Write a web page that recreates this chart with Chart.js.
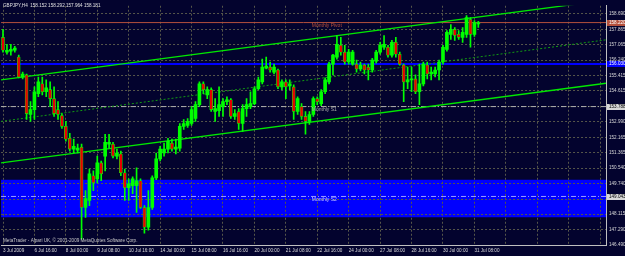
<!DOCTYPE html>
<html><head><meta charset="utf-8">
<script src="https://cdn.jsdelivr.net/npm/chart.js@4.4.0/dist/chart.umd.min.js"></script>
<style>
html,body{margin:0;padding:0;background:#03032e;overflow:hidden}
#wrap{width:625px;height:256px;position:relative}
canvas{background:#03032e;display:block}
</style></head>
<body><div id="wrap"><canvas id="c" width="625" height="256"></canvas></div>
<script>
// GBPJPY H4 candles (price values)
const openPrices = [
157.44,156.66,156.71,156.76,156.40,155.35,155.46,153.37,153.63,154.47,
154.99,154.57,154.68,154.21,153.63,153.32,152.75,152.12,151.55,151.49,
151.65,148.47,148.84,150.14,149.98,150.82,151.18,151.81,151.81,151.18,
151.29,150.30,149.51,149.62,149.62,149.88,148.47,147.43,148.47,150.03,
151.03,151.34,151.55,151.86,151.55,151.60,152.75,152.80,152.90,153.16,
153.89,154.99,154.41,154.68,153.53,153.58,153.79,154.05,154.15,153.27,
153.53,152.90,153.68,153.79,153.95,154.73,155.09,155.82,155.87,155.61,
155.72,154.83,155.09,154.88,154.83,153.53,153.79,153.27,153.01,153.37,
154.21,153.95,154.57,155.09,156.03,156.40,157.02,156.66,156.14,156.03,
156.03,155.77,155.98,155.87,155.72,156.19,156.66,156.92,156.92,156.50,
157.18,156.55,155.98,155.09,155.20,155.25,154.57,154.99,155.98,155.51,
155.51,155.72,156.14,156.81,157.60,157.86,157.60,157.44,157.60,158.38,
157.60,158.152];
const highPrices = [
157.86,157.07,157.07,156.97,156.50,155.61,155.51,154.05,154.83,155.35,
155.35,155.20,155.09,154.83,154.05,153.42,153.01,152.38,152.07,151.81,
151.81,149.36,150.50,150.40,151.18,150.92,152.33,152.33,151.91,151.55,
151.44,150.50,149.98,150.09,150.56,149.98,148.57,149.36,150.14,151.34,
151.70,151.86,152.12,152.07,152.07,152.90,153.11,153.16,153.79,154.05,
155.09,155.09,154.83,154.78,154.21,154.83,154.21,154.31,154.21,153.63,
153.68,153.89,154.21,154.57,154.83,155.35,156.29,156.40,156.14,156.03,
155.77,155.20,155.20,155.20,154.94,154.31,153.95,153.53,153.53,154.31,
154.31,154.68,155.30,156.14,156.55,157.54,157.44,157.02,156.81,156.76,
156.24,156.14,156.03,156.03,156.34,156.76,157.18,157.54,157.02,157.28,
157.44,156.66,156.03,155.87,155.87,155.46,156.03,156.14,156.14,155.87,
155.87,156.24,157.02,157.80,158.12,157.96,157.80,157.96,158.59,158.48,
158.32,158.292];
const lowPrices = [
156.66,156.55,156.50,156.66,155.30,155.25,153.11,153.01,153.11,154.31,
154.41,154.31,153.79,153.27,153.11,152.64,151.96,151.44,151.34,151.34,
146.80,147.95,148.57,149.36,149.77,149.88,150.40,151.60,151.08,151.03,
150.14,148.84,148.84,149.20,148.21,148.42,147.11,147.27,148.37,149.93,
150.92,151.18,151.34,151.44,151.29,151.44,152.59,152.69,152.80,153.01,
153.79,154.47,154.21,153.53,153.01,153.27,153.27,153.89,153.16,153.11,
152.59,152.48,153.27,153.68,153.89,154.68,154.99,155.77,155.61,155.51,
154.73,154.68,154.21,154.68,153.11,153.37,153.11,152.33,152.85,153.27,
153.89,153.84,154.47,154.99,155.46,156.29,156.50,156.03,156.03,155.98,
155.61,155.67,155.51,155.20,155.61,156.08,156.55,156.81,156.40,156.40,
156.40,155.98,154.05,154.73,154.57,154.47,153.89,154.88,155.25,155.20,
155.35,155.20,156.03,156.71,157.33,157.28,157.33,157.18,157.44,156.92,
157.49,157.964];
const closePrices = [
156.76,156.76,156.81,156.87,155.35,155.51,153.42,153.63,154.57,155.09,
154.57,154.78,154.21,153.42,153.37,152.75,152.07,151.55,151.70,151.60,
148.47,148.94,150.24,149.77,150.82,150.24,151.91,151.91,151.18,151.34,
150.30,149.51,149.72,149.98,149.88,148.47,147.43,148.47,150.03,151.03,
151.55,151.55,151.96,151.55,151.65,152.75,152.90,153.01,153.63,153.89,
154.99,154.68,154.68,153.63,153.68,153.89,154.05,154.15,153.27,153.42,
152.90,153.68,153.89,153.95,154.73,155.20,155.87,155.93,155.72,155.87,
154.83,155.09,154.83,154.99,153.53,154.21,153.27,153.01,153.37,154.21,
154.05,154.57,155.20,156.03,156.50,157.07,156.66,156.14,156.66,156.66,
155.77,155.98,155.72,155.72,156.24,156.66,157.02,157.07,156.50,157.18,
156.55,156.03,155.09,155.20,155.25,154.57,154.99,156.03,155.51,155.61,
155.72,156.14,156.92,157.70,157.86,157.54,157.44,157.70,158.48,157.60,
158.22,158.181];

// time axis labels, one every 8 bars
const timeLabels = ["3 Jul 2009","6 Jul 16:00","8 Jul 00:00","9 Jul 08:00","10 Jul 16:00",
  "14 Jul 00:00","15 Jul 08:00","16 Jul 16:00","20 Jul 00:00","21 Jul 08:00","22 Jul 16:00",
  "24 Jul 00:00","27 Jul 08:00","28 Jul 16:00","30 Jul 00:00","31 Jul 08:00"];
const barsPerLabel = 8;
const slotCount = 154;

// price axis labels
const priceTicks = [158.690,157.865,157.065,156.240,155.415,154.615,153.790,152.990,
  152.165,151.365,150.540,149.740,148.915,148.115,147.290,146.490];
const priceMin = 146.49, priceMax = 159.107;

// trend channel (start price, end price across the window)
const upperChannel = [155.20, 159.40];
const middleChannel = [153.01, 157.31];
const lowerChannel = [150.82, 155.02];

// pivot levels
const monthlyPivot = 158.22;
const weeklyPivot = 156.03;
const monthlyS1 = 153.79;
const monthlyS2 = 149.05;
const s2Zone = [149.93, 147.95];

const levelNames = ["Monthly Pivot","Monthly S1","Monthly S2"];
const levelNamePrices = [158.06, 153.63, 148.89];
const levelNameSlot = 78.6;

const boxValues = [158.220, 156.030, 153.788, 149.043];
const titleText = "GBPJPY,H4  158.152 158.292 157.964 158.181";
const footerText = "MetaTrader - Alpari UK, \u00a9 2001-2009 MetaQuotes Software Corp.";

// ---- build chart ----
const labels = Array.from({length: slotCount}, (_, i) =>
  (i % barsPerLabel === 0 && timeLabels[i / barsPerLabel]) ? timeLabels[i / barsPerLabel] : '');
const wicks = lowPrices.map((l, i) => [l, highPrices[i]]);
const bodies = openPrices.map((o, i) => [o, closePrices[i]]);
const isBull = openPrices.map((o, i) => closePrices[i] >= o);
const bodyFill = isBull.map(b => b ? '#00ff00' : '#e80000');
const bodyBorderW = isBull.map(b => b ? 0 : 0.6);
const span = (a, b) => [{x: -0.5, y: a}, {x: slotCount - 0.5, y: b}];
const lineDs = (pts, color, width, dash, order) => ({
  type: 'line', xAxisID: 'xl', yAxisID: 'y', data: pts, borderColor: color,
  borderWidth: width, borderDash: dash || [], pointRadius: 0, fill: false, order: order
});

const FONT = '"Liberation Sans", Arial, sans-serif';

const annot = {
  id: 'annot',
  afterDatasetsDraw(chart) {
    const ctx = chart.ctx, xs = chart.scales.xl, ys = chart.scales.y;
    ctx.save();
    ctx.font = '5px ' + FONT;
    ctx.textBaseline = 'middle';
    ctx.textAlign = 'left';
    const cols = ['#b4503c', '#a8a8a8', '#c8c8ff'];
    levelNames.forEach((t, i) => {
      ctx.fillStyle = cols[i];
      ctx.fillText(t, xs.getPixelForValue(levelNameSlot), ys.getPixelForValue(levelNamePrices[i]));
    });
    ctx.restore();
  },
  afterDraw(chart) {
    const ctx = chart.ctx, ys = chart.scales.y;
    ctx.save();
    ctx.font = '4.6px ' + FONT;
    ctx.textBaseline = 'middle';
    ctx.textAlign = 'left';
    const bg = ['#b4503c', '#0000ff', '#d8d8d8', '#d8d8d8'];
    const fg = ['#ffffff', '#ffffff', '#000000', '#000000'];
    boxValues.forEach((v, i) => {
      const y = ys.getPixelForValue(v);
      ctx.fillStyle = bg[i];
      ctx.fillRect(ys.left + 1, Math.round(y) - 3, 18, 6);
      ctx.fillStyle = fg[i];
      ctx.fillText(v.toFixed(3), ys.left + 3, y);
    });
    ctx.fillStyle = '#e0e0e0';
    ctx.fillText(titleText, 3, 6);
    ctx.fillStyle = '#c8c8c8';
    ctx.fillText(footerText, 3, 240.5);
    ctx.restore();
  }
};

new Chart(document.getElementById('c'), {
  type: 'bar',
  data: {
    labels: labels,
    datasets: [
      {type: 'bar', data: bodies, backgroundColor: bodyFill, borderColor: '#00ff00',
       borderWidth: bodyBorderW, borderSkipped: false, barThickness: 3, grouped: false,
       minBarLength: 1, order: 0},
      {type: 'bar', data: wicks, backgroundColor: '#00ff00', borderWidth: 0,
       barThickness: 1, grouped: false, order: 1},
      lineDs(span(upperChannel[0], upperChannel[1]), '#00e800', 1.3, null, 2),
      lineDs(span(lowerChannel[0], lowerChannel[1]), '#00e800', 1.3, null, 2),
      lineDs(span(middleChannel[0], middleChannel[1]), '#129a12', 1, [2, 2], 3),
      lineDs(span(monthlyPivot, monthlyPivot), '#b4503c', 1, null, 4),
      lineDs(span(weeklyPivot, weeklyPivot), '#0000ff', 2, null, 4),
      lineDs(span(monthlyS1, monthlyS1), '#b0b0b0', 1, [5, 2, 1, 2], 4),
      lineDs(span(monthlyS2, monthlyS2), '#9a9aff', 1, [5, 2, 1, 2], 4),
      {type: 'line', xAxisID: 'xl', yAxisID: 'y', data: span(s2Zone[0], s2Zone[0]),
       borderWidth: 0, borderColor: 'rgba(0,0,0,0)', pointRadius: 0,
       fill: {value: s2Zone[1]}, backgroundColor: '#0000ff', order: 9}
    ]
  },
  options: {
    responsive: false, animation: false, devicePixelRatio: 1,
    layout: {padding: {top: 3, left: 0, right: 0, bottom: 0}},
    plugins: {legend: {display: false}, tooltip: {enabled: false},
              filler: {drawTime: 'beforeDraw'}},
    scales: {
      x: {
        type: 'category', offset: true,
        grid: {offset: false, drawTicks: false, lineWidth: 1,
               color: c => (c.index % barsPerLabel === 0) ? '#56564a' : 'rgba(0,0,0,0)'},
        border: {display: true, color: '#c0c0c0', width: 1, dash: [2, 2]},
        ticks: {autoSkip: false, maxRotation: 0, minRotation: 0, align: 'start', padding: 3,
                color: '#d8d8d8', font: {size: 4.6, family: FONT}},
        afterFit: s => { s.height = 11; }
      },
      xl: {type: 'linear', display: false, offset: false, beginAtZero: false,
           grid: {offset: false}, min: -0.5, max: slotCount - 0.5},
      y: {
        position: 'right', min: priceMin, max: priceMax,
        afterBuildTicks: s => { s.ticks = priceTicks.map(v => ({value: v})); },
        grid: {drawTicks: false, color: '#56564a', lineWidth: 1},
        border: {display: true, color: '#c0c0c0', width: 1, dash: [2, 2]},
        ticks: {autoSkip: false, padding: 3, color: '#d8d8d8',
                font: {size: 4.6, family: FONT}, callback: v => Number(v).toFixed(3)},
        afterFit: s => { s.width = 19; }
      }
    }
  },
  plugins: [annot]
});
</script>
</body></html>
